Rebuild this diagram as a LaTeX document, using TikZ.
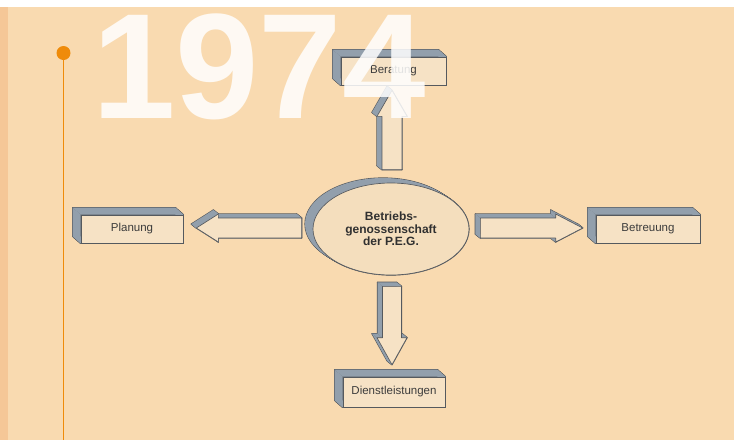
\documentclass[tikz,border=0pt]{standalone}
\usepackage{fontspec}
\setmainfont{Liberation Sans}
\usetikzlibrary{calc,shapes.geometric}
\pgfdeclarelayer{bg}\pgfdeclarelayer{back}
\pgfsetlayers{bg,back,main}
\definecolor{bgpeach}{HTML}{F9DAB0}
\definecolor{stripc}{HTML}{F5C797}
\definecolor{orangec}{HTML}{EF8B0A}
\definecolor{sidec}{HTML}{929FAC}
\definecolor{edgec}{HTML}{55595E}
\definecolor{frontc}{HTML}{F6E2C5}
\definecolor{ellc}{HTML}{F4DEBD}
\definecolor{txtc}{HTML}{3C3C3C}
\tikzset{
  sideface/.style={fill=sidec},
  edgeline/.style={draw=edgec, line width=1.2pt, line join=round},
  frontface/.style={fill=frontc, draw=edgec, line width=0.65pt, line join=round},
  box3d/.style={rectangle, frontface, inner sep=0pt, minimum height=28pt,
    font=\fontsize{11.5}{12}\selectfont, text=txtc},
  pegnode/.style={ellipse, fill=ellc, draw=edgec, line width=0.65pt, inner sep=0pt,
    minimum width=156pt, minimum height=92pt, align=center,
    font=\bfseries\fontsize{12}{12.5}\selectfont, text=txtc!80!black},
  yearnode/.style={inner sep=0pt, text=white, text opacity=0.85,
    font=\bfseries\fontsize{150}{150}\selectfont},
  timeline/.style={draw=orangec, line width=1.8pt}
}
% #1 offset, #2 last point, #3 list of points of the front outline
\newcommand\extrude[3]{%
  \begin{pgfonlayer}{back}
  \foreach \p [remember=\p as \q (initially #2)] in {#3}
    \draw[edgeline] (\q) -- (\p) -- ($(\p)+#1$) -- ($(\q)+#1$) -- cycle;
  \foreach \p [remember=\p as \q (initially #2)] in {#3}
    \fill[sideface] (\q) -- (\p) -- ($(\p)+#1$) -- ($(\q)+#1$) -- cycle;
  \end{pgfonlayer}}
\newcommand\boxthreed[1]{%
  \extrude{(-8,-7)}{#1.south west}{#1.north west,#1.north east,#1.south east,#1.south west}}
% #1 prefix, #2 start, #3 tip, #4 shaft half width, #5 head half width, #6 head length
\newcommand\blockarrow[6]{%
  \coordinate (#1h) at ($(#3)!#6!(#2)$);
  \coordinate (#1s1) at ($(#2)!#4!90:(#3)$);
  \coordinate (#1s2) at ($(#2)!#4!-90:(#3)$);
  \coordinate (#1h1) at ($(#1h)!#4!90:(#3)$);
  \coordinate (#1h2) at ($(#1h)!#4!-90:(#3)$);
  \coordinate (#1w1) at ($(#1h)!#5!90:(#3)$);
  \coordinate (#1w2) at ($(#1h)!#5!-90:(#3)$);
  \extrude{(-5,-4)}{#1s2}{#1s1,#1h1,#1w1,#3,#1w2,#1h2,#1s2}
  \filldraw[frontface] (#1s1) -- (#1h1) -- (#1w1) -- (#3) -- (#1w2) -- (#1h2) -- (#1s2) -- cycle;
}
\begin{document}
\begin{tikzpicture}[x=1pt,y=-1pt]
\useasboundingbox (0,0) rectangle (734,440);
\begin{pgfonlayer}{bg}
  \fill[bgpeach] (0,0) rectangle (734,440);
  \fill[stripc] (0,0) rectangle (8,440);
  \fill[white] (0,0) rectangle (734,7);
\end{pgfonlayer}

% timeline
\node[circle, fill=orangec, minimum size=14pt, inner sep=0pt] (dot) at (63.5,53) {};
\coordinate (lineend) at (63.5,440);
\draw[timeline] (dot.center) -- (lineend);

% nodes
\node[pegnode] (peg) at (391,229) {Betriebs-\\genossenschaft\\der P.E.G.};
\node[box3d, minimum width=105pt] (ber) at (393.5,71) {Beratung};
\node[box3d, minimum width=102pt] (plan) at (132,229) {Planung};
\node[box3d, minimum width=104pt] (bet) at (648,229) {Betreuung};
\node[box3d, minimum width=102pt, minimum height=30pt] (dien) at (394,392) {Dienstleistungen};
\boxthreed{ber}
\boxthreed{plan}
\boxthreed{bet}
\boxthreed{dien}

% ellipse rim
\begin{pgfonlayer}{back}
  \foreach \t in {0,0.125,...,1}
    \draw[edgeline] ($(peg.center)+\t*(-8,-5)$) ellipse [x radius=78, y radius=46];
  \foreach \t in {0,0.125,...,1}
    \fill[sidec] ($(peg.center)+\t*(-8,-5)$) ellipse [x radius=78, y radius=46];
\end{pgfonlayer}

% block arrows
\coordinate (ua-a) at ($(peg.north)+(1,-13)$);
\coordinate (ua-b) at ($(peg.north |- ber.south)+(1,5)$);
\blockarrow{ua}{ua-a}{ua-b}{10pt}{15pt}{26pt}
\coordinate (da-a) at ($(peg.south)+(1,11)$);
\coordinate (da-b) at ($(peg.south |- dien.north)+(1,-12)$);
\blockarrow{da}{da-a}{da-b}{9.5pt}{15pt}{27pt}
\coordinate (la-a) at ($(peg.west)+(-11,-1)$);
\coordinate (la-b) at ($(plan.east)+(13,-1)$);
\blockarrow{la}{la-a}{la-b}{10pt}{14pt}{22pt}
\coordinate (ra-a) at ($(peg.east)+(11,-1)$);
\coordinate (ra-b) at ($(bet.west)+(-13,-1)$);
\blockarrow{ra}{ra-a}{ra-b}{10pt}{14pt}{27pt}

% year
\node[yearnode, anchor=base east] (year) at (426,118) {1974};
\end{tikzpicture}
\end{document}
